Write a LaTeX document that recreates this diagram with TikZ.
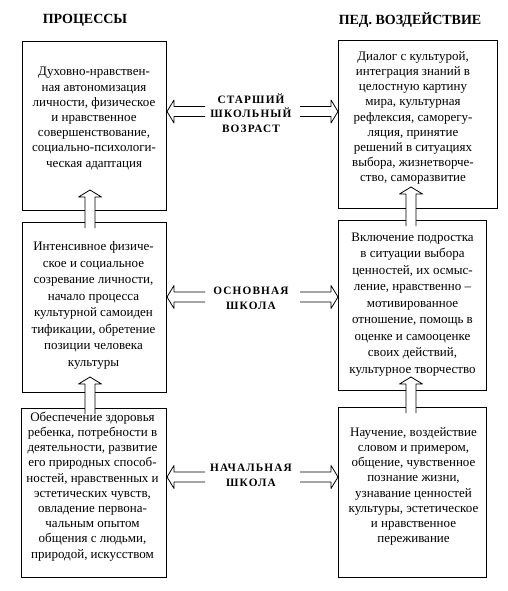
\documentclass[tikz,border=0pt]{standalone}
\usepackage{fontspec}
\setmainfont{Liberation Serif}
\usetikzlibrary{calc}
\newcommand\hollowarr[2]{% #1 = start, #2 = tip
  \coordinate (hb) at ($(#2)!7pt!(#1)$);
  \path[arrline]
    ($(#1)!5pt!90:(#2)$) -- ($(hb)!5pt!90:(#2)$) -- ($(hb)!11.5pt!90:(#2)$) --
    (#2) -- ($(hb)!11.5pt!-90:(#2)$) -- ($(hb)!5pt!-90:(#2)$) -- ($(#1)!5pt!-90:(#2)$);
}
\begin{document}
\begin{tikzpicture}[x=1pt,y=-1pt,
  box/.style={draw, line width=1pt, inner sep=0pt, anchor=north west},
  txt/.style={align=center, inner sep=0pt, font=\fontsize{13}{15.2}\selectfont},
  txtb/.style={align=center, inner sep=0pt, font=\fontsize{13}{16.5}\selectfont},
  lbl/.style={align=center, inner sep=0pt, font=\fontsize{11.3}{14.5}\selectfont\bfseries\addfontfeatures{LetterSpace=10}},
  hdr/.style={inner sep=0pt, font=\fontsize{14}{16}\selectfont\bfseries},
  arrline/.style={draw, fill=white, line width=0.8pt, line join=round},
]
\useasboundingbox[fill=white] (0,0) rectangle (507,591);

% headers
\node[hdr] (h1) at (85,20) {ПРОЦЕССЫ};
\node[hdr] (h2) at (410,20) {ПЕД. ВОЗДЕЙСТВИЕ};

% boxes
\node[box, minimum width=144pt, minimum height=169pt] (L1) at (22,41) {};
\node[box, minimum width=144pt, minimum height=170pt] (L2) at (22,222) {};
\node[box, minimum width=145pt, minimum height=169pt] (L3) at (21,408) {};
\node[box, minimum width=159pt, minimum height=168pt] (R1) at (338,40) {};
\node[box, minimum width=148pt, minimum height=170pt] (R2) at (338,220) {};
\node[box, minimum width=148pt, minimum height=170pt] (R3) at (338,407) {};

% box texts
\node[txt] (tL1) at (94,118.5) {Духовно-нравствен-\\ная автономизация\\личности, физическое\\и нравственное\\совершенствование,\\социально-психологи-\\ческая адаптация};
\node[txt] (tR1) at (413,118) {Диалог с культурой,\\интеграция знаний в\\целостную картину\\мира, культурная\\рефлексия, саморегу-\\ляция, принятие\\решений в ситуациях\\выбора, жизнетворче-\\ство, саморазвитие};
\node[txtb] (tL2) at (93.5,305.5) {Интенсивное физиче-\\ское и социальное\\созревание личности,\\начало процесса\\культурной самоиден\\тификации, обретение\\позиции человека\\культуры};
\node[txtb] (tR2) at (412.5,304.5) {Включение подростка\\в ситуации выбора\\ценностей, их осмыс-\\ление, нравственно –\\мотивированное\\отношение, помощь в\\оценке и самооценке\\своих действий,\\культурное творчество};
\node[txt] (tL3) at (92.5,486.5) {Обеспечение здоровья\\ребенка, потребности в\\деятельности, развитие\\его природных способ-\\ностей, нравственных и\\эстетических чувств,\\овладение первона-\\чальным опытом\\общения с людьми,\\природой, искусством};
\node[txt] (tR3) at (413.5,486.5) {Научение, воздействие\\словом и примером,\\общение, чувственное\\познание жизни,\\узнавание ценностей\\культуры, эстетическое\\и нравственное\\переживание};

% middle labels
\node[lbl] (m1) at (251,113) {СТАРШИЙ\\ШКОЛЬНЫЙ\\ВОЗРАСТ};
\node[lbl] (m2) at (251,298.5) {ОСНОВНАЯ\\ШКОЛА};
\node[lbl] (m3) at (251,475.5) {НАЧАЛЬНАЯ\\ШКОЛА};

% free ends of horizontal arrows
\coordinate (a1l) at (205,111.5);
\coordinate (a1r) at (300,111.5);
\coordinate (a2l) at (205,297);
\coordinate (a2r) at (300,297);
\coordinate (a3l) at (205,477);
\coordinate (a3r) at (300,477);
\hollowarr{a1l}{a1l -| L1.east}
\hollowarr{a1r}{a1r -| R1.west}
\hollowarr{a2l}{a2l -| L2.east}
\hollowarr{a2r}{a2r -| R2.west}
\hollowarr{a3l}{a3l -| L3.east}
\hollowarr{a3r}{a3r -| R3.west}

% vertical arrows: start just inside the lower box, tip inside the upper box
\coordinate (v1) at (90,190);
\coordinate (v2) at (90,377);
\coordinate (v3) at (411,187);
\coordinate (v4) at (411,377);
\coordinate (s1) at ([yshift=-6pt]v1 |- L2.north);
\coordinate (s2) at ([yshift=-6pt]v2 |- L3.north);
\coordinate (s3) at ([yshift=-6pt]v3 |- R2.north);
\coordinate (s4) at ([yshift=-6pt]v4 |- R3.north);
\hollowarr{s1}{v1}
\hollowarr{s2}{v2}
\hollowarr{s3}{v3}
\hollowarr{s4}{v4}
\end{tikzpicture}
\end{document}
